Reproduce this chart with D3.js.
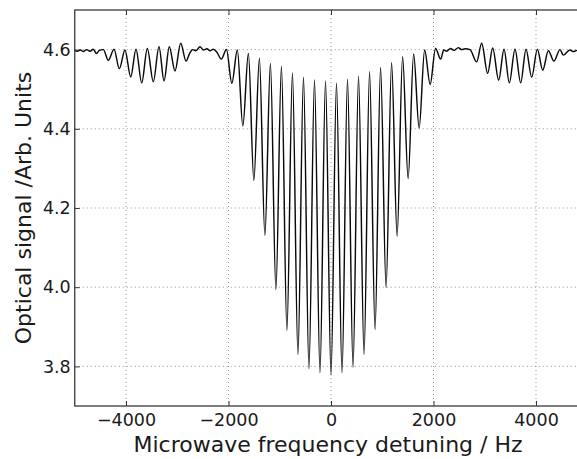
<!DOCTYPE html>
<html>
<head>
<meta charset="utf-8">
<script src="https://cdn.jsdelivr.net/npm/d3@7"></script>
<style>
  html, body { margin: 0; padding: 0; background: #fff; }
  svg { display: block; }
</style>
</head>
<body>
<script>
// ---- data ----
const xTicks = [-4000, -2000, 0, 2000, 4000];
const xTickLabels = ["\u22124000", "\u22122000", "0", "2000", "4000"];
const yTicks = [3.8, 4.0, 4.2, 4.4, 4.6];
const yTickLabels = ["3.8", "4.0", "4.2", "4.4", "4.6"];

const leftBaselineHz  = [-5000, -4950, -4890, -4830, -4770, -4700, -4640, -4575, -4520];
const leftBaselineSig = [4.598, 4.596, 4.599, 4.595, 4.600, 4.596, 4.601, 4.590, 4.598];

const leftSidebandHz  = [-4442, -4345, -4234, -4130, -4020, -3908, -3805, -3693, -3584, -3467, -3356, -3258, -3155, -3044, -2933, -2829];
const leftSidebandSig = [4.600, 4.573, 4.601, 4.552, 4.599, 4.531, 4.601, 4.516, 4.603, 4.519, 4.607, 4.521, 4.607, 4.546, 4.616, 4.571];

const leftGapHz  = [-2760, -2700, -2640, -2556, -2490, -2420, -2360, -2296, -2230];
const leftGapSig = [4.590, 4.600, 4.597, 4.607, 4.599, 4.602, 4.597, 4.601, 4.594];

const centralHz  = [-2140, -2040, -1935, -1827, -1720, -1612, -1505, -1397, -1290, -1182, -1075, -967, -860, -752, -645, -537, -430, -322, -215, -107,
                    0, 107, 215, 322, 430, 537, 645, 752, 860, 967, 1075, 1182, 1290, 1397, 1505, 1612, 1720, 1827, 1935, 2040, 2140];
const centralSig = [4.576, 4.600, 4.515, 4.599, 4.407, 4.590, 4.270, 4.578, 4.131, 4.565, 3.994, 4.558, 3.891, 4.541, 3.830, 4.530, 3.794, 4.523, 3.784, 4.521,
                    3.779, 4.515, 3.784, 4.525, 3.798, 4.533, 3.830, 4.544, 3.893, 4.555, 3.999, 4.567, 4.129, 4.582, 4.274, 4.589, 4.402, 4.599, 4.512, 4.603, 4.576];

const rightGapHz  = [2200, 2260, 2330, 2400, 2484, 2550, 2620];
const rightGapSig = [4.599, 4.596, 4.603, 4.598, 4.605, 4.600, 4.602];

const rightSidebandHz  = [2712, 2842, 2940, 3057, 3155, 3272, 3376, 3480, 3590, 3701, 3805, 3916, 4026, 4131, 4241, 4351, 4468, 4533];
const rightSidebandSig = [4.600, 4.569, 4.616, 4.540, 4.604, 4.523, 4.601, 4.516, 4.601, 4.516, 4.601, 4.530, 4.601, 4.548, 4.597, 4.571, 4.600, 4.586];

const rightBaselineHz  = [4663, 4730, 4800, 4870, 4940, 5000];
const rightBaselineSig = [4.599, 4.595, 4.598, 4.596, 4.599, 4.597];

// ---- build points ----
function pairs(xs, ys) { return xs.map((x, i) => ({ x: x, y: ys[i] })); }
const points = [].concat(
  pairs(leftBaselineHz, leftBaselineSig),
  pairs(leftSidebandHz, leftSidebandSig),
  pairs(leftGapHz, leftGapSig),
  pairs(centralHz, centralSig),
  pairs(rightGapHz, rightGapSig),
  pairs(rightSidebandHz, rightSidebandSig),
  pairs(rightBaselineHz, rightBaselineSig)
).sort((a, b) => a.x - b.x);

// ---- layout ----
const W = 577, H = 459;
const plot = { left: 74.75, right: 587.25, top: 10, bottom: 406 };
const FONT = "'DejaVu Sans', sans-serif";

const x = d3.scaleLinear().domain([-5000, 5000]).range([plot.left, plot.right]);
const y = d3.scaleLinear().domain([3.7, 4.7]).range([plot.bottom, plot.top]);

const svg = d3.select("body").append("svg").attr("width", W).attr("height", H);

svg.append("defs").append("clipPath").attr("id", "clip")
  .append("rect")
  .attr("x", plot.left).attr("y", plot.top)
  .attr("width", plot.right - plot.left).attr("height", plot.bottom - plot.top);

// grid
const grid = svg.append("g").attr("class", "grid");
grid.selectAll("line.vx").data(xTicks).enter().append("line")
  .attr("x1", d => x(d)).attr("x2", d => x(d))
  .attr("y1", plot.top).attr("y2", plot.bottom)
  .attr("stroke", "#8a8a8a").attr("stroke-width", 0.9).attr("stroke-dasharray", "1,3");
grid.selectAll("line.hy").data(yTicks).enter().append("line")
  .attr("y1", d => y(d)).attr("y2", d => y(d))
  .attr("x1", plot.left).attr("x2", plot.right)
  .attr("stroke", "#8a8a8a").attr("stroke-width", 0.9).attr("stroke-dasharray", "1,3");

// data line
const line = d3.line().x(d => x(d.x)).y(d => y(d.y)).curve(d3.curveMonotoneX);
svg.append("path").datum(points)
  .attr("clip-path", "url(#clip)")
  .attr("d", line)
  .attr("fill", "none").attr("stroke", "#0a0a0a").attr("stroke-width", 1.45)
  .attr("stroke-linejoin", "round");

// axes
const xAxis = d3.axisBottom(x).tickValues(xTicks)
  .tickFormat((d, i) => xTickLabels[i]).tickSizeInner(-5).tickSizeOuter(0).tickPadding(8);
const gx = svg.append("g").attr("transform", `translate(0,${plot.bottom})`).call(xAxis);

const xTop = d3.axisTop(x).tickValues(xTicks).tickFormat("").tickSizeInner(-5).tickSizeOuter(0);
const gxt = svg.append("g").attr("transform", `translate(0,${plot.top})`).call(xTop);

const yAxis = d3.axisLeft(y).tickValues(yTicks)
  .tickFormat((d, i) => yTickLabels[i]).tickSizeInner(-5).tickSizeOuter(0).tickPadding(4);
const gy = svg.append("g").attr("transform", `translate(${plot.left},0)`).call(yAxis);

const yRight = d3.axisRight(y).tickValues(yTicks).tickFormat("").tickSizeInner(-5).tickSizeOuter(0);
const gyr = svg.append("g").attr("transform", `translate(${plot.right},0)`).call(yRight);

[gx, gxt, gy, gyr].forEach(g => {
  g.select(".domain").remove();
  g.selectAll(".tick line").attr("stroke", "#333").attr("stroke-width", 1);
  g.selectAll(".tick text").attr("font-family", FONT).attr("font-size", 17.5).attr("fill", "#1a1a1a");
});

// frame
svg.append("rect")
  .attr("x", plot.left).attr("y", plot.top)
  .attr("width", plot.right - plot.left).attr("height", plot.bottom - plot.top)
  .attr("fill", "none").attr("stroke", "#3a3a3a").attr("stroke-width", 1.3);

// axis titles
svg.append("text")
  .attr("x", (plot.left + plot.right) / 2 - 3).attr("y", 452)
  .attr("text-anchor", "middle")
  .attr("font-family", FONT).attr("font-size", 22).attr("fill", "#1a1a1a")
  .text("Microwave frequency detuning / Hz");

svg.append("text")
  .attr("transform", `translate(31,${(plot.top + plot.bottom) / 2}) rotate(-90)`)
  .attr("text-anchor", "middle")
  .attr("font-family", FONT).attr("font-size", 22).attr("fill", "#1a1a1a")
  .text("Optical signal /Arb. Units");
</script>
</body>
</html>
